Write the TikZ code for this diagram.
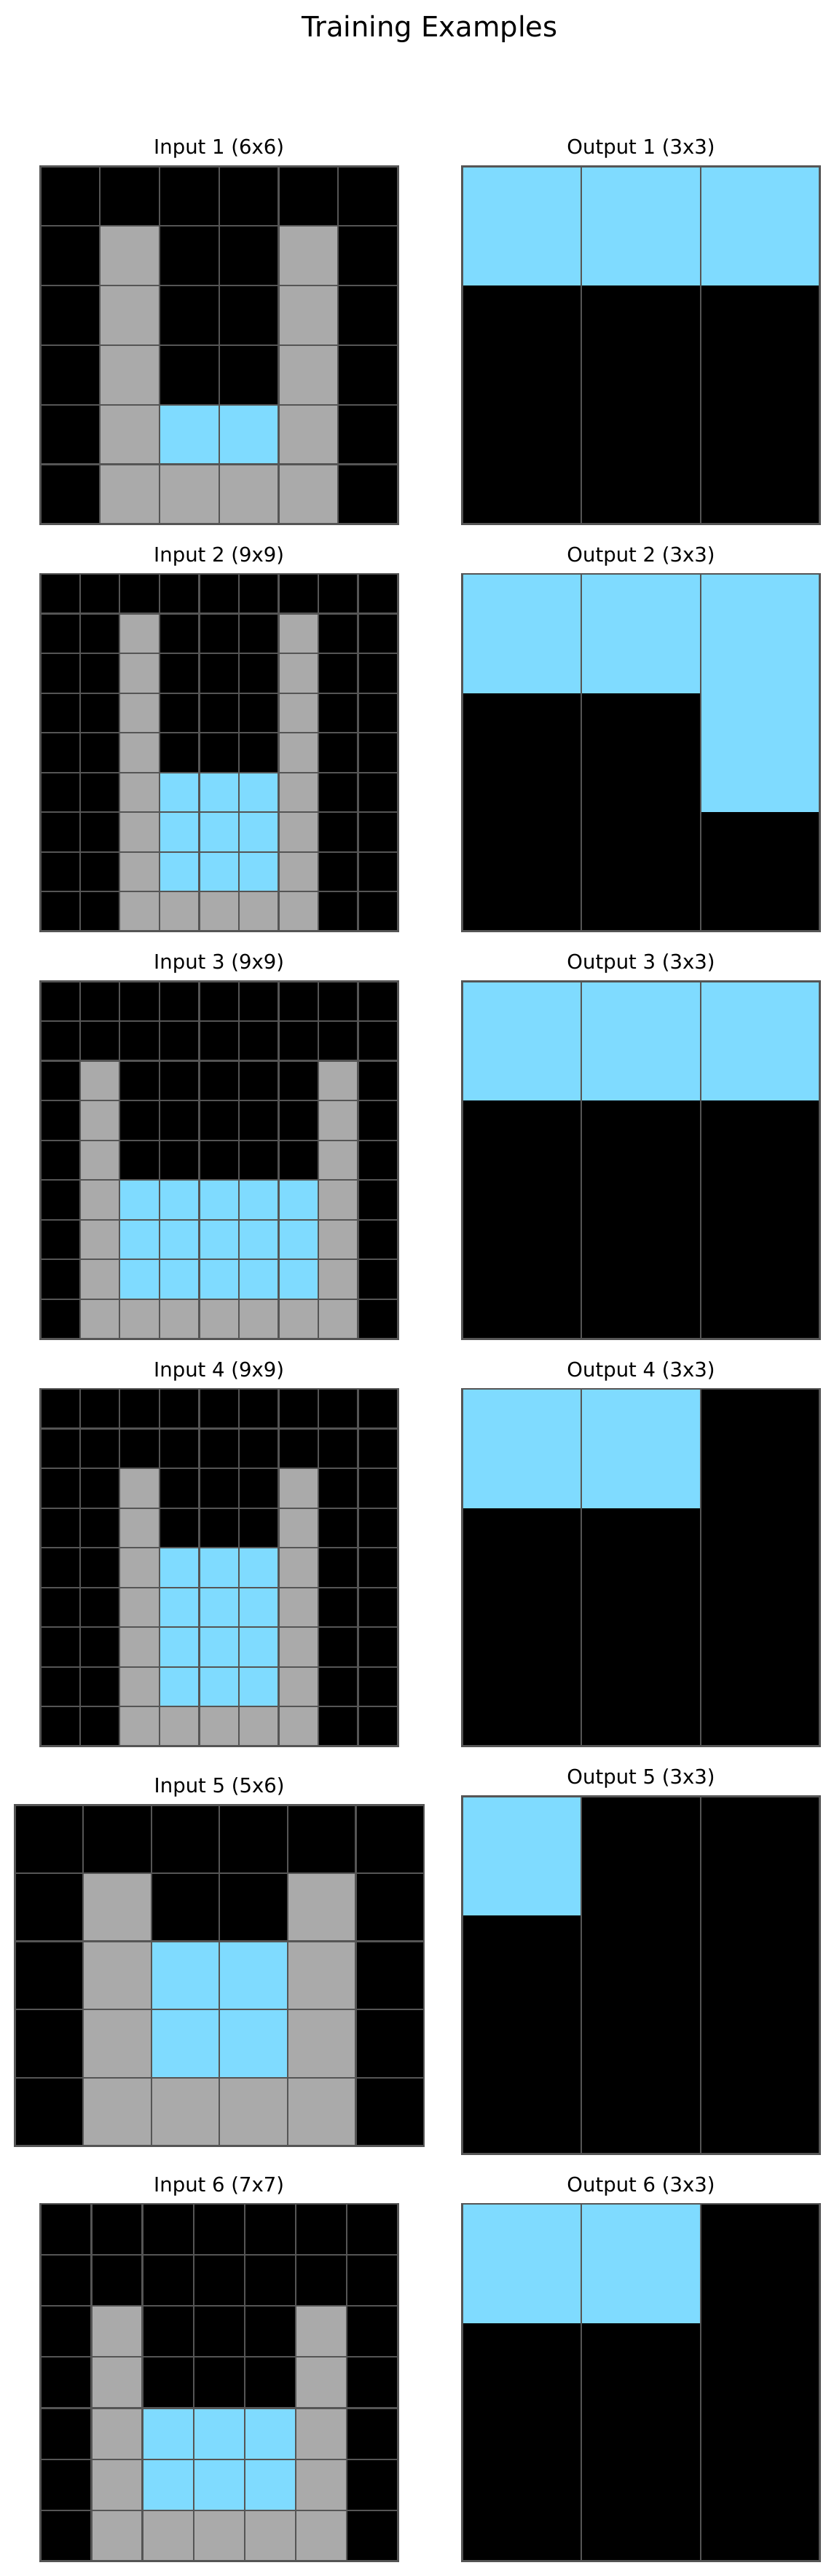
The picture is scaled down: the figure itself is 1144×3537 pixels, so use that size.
\documentclass[tikz,border=0pt]{standalone}
\usepackage{fontspec}
\setmainfont{DejaVu Sans}
\definecolor{c0}{HTML}{000000}
\definecolor{c5}{HTML}{AAAAAA}
\definecolor{c8}{HTML}{7FDBFF}
\definecolor{gridline}{HTML}{555555}

% cells of one grid: x0, y0, cell size, rows
\newcommand{\fillcells}[4]{%
  \foreach \cellrow [count=\r from 0] in {#4} {
    \foreach \v [count=\k from 0] in \cellrow {
      \fill[c\v] ({#1+\k*#3},{#2+\r*#3}) rectangle ++(#3,#3);
    }
  }
}
% input grid: x0, y0, cell size, cols, rows, data
\newcommand{\ingrid}[6]{%
  \fillcells{#1}{#2}{#3}{#6}
  \pgfmathtruncatemacro\lastcol{#4-1}
  \pgfmathtruncatemacro\lastrow{#5-1}
  \foreach \i in {1,...,\lastcol}
    \draw[inner line] ({#1+\i*#3},#2) -- ++(0,{#5*#3});
  \foreach \j in {1,...,\lastrow}
    \draw[inner line] (#1,{#2+\j*#3}) -- ++({#4*#3},0);
  \draw[outer line] (#1,#2) rectangle ++({#4*#3},{#5*#3});
}
% output grid (3x3): x0, y0, data
\newcommand{\outgrid}[3]{%
  \fillcells{#1}{#2}{163.6}{#3}
  \foreach \i in {1,2}
    \draw[inner line] ({#1+\i*163.6},#2) -- ++(0,490.8);
  \draw[outer line] (#1,#2) rectangle ++(490.8,490.8);
}

\begin{document}
\begin{tikzpicture}[x=1pt, y=-1pt,
    inner line/.style={gridline, line width=2.2pt},
    outer line/.style={gridline, line width=2.8pt},
    suptitle/.style={anchor=base, inner sep=0pt, font=\fontsize{38.5}{46}\selectfont},
    paneltitle/.style={anchor=base, inner sep=0pt, font=\fontsize{27.5}{33}\selectfont}]
  \useasboundingbox[fill=white] (0,0) rectangle (1144,3537);

  \node[suptitle] (title) at (590,50) {Training Examples};

  % pair 1
  \node[paneltitle] (in1) at (300.7,211.5) {Input 1 (6x6)};
  \node[paneltitle] (out1) at (880.1,211.5) {Output 1 (3x3)};
  \ingrid{55.3}{228.5}{81.8}{6}{6}{{0,0,0,0,0,0},{0,5,0,0,5,0},{0,5,0,0,5,0},{0,5,0,0,5,0},{0,5,8,8,5,0},{0,5,5,5,5,0}}
  \outgrid{634.7}{228.5}{{8,8,8},{0,0,0},{0,0,0}}

  % pair 2
  \node[paneltitle] (in2) at (300.7,771) {Input 2 (9x9)};
  \node[paneltitle] (out2) at (880.1,771) {Output 2 (3x3)};
  \ingrid{55.3}{788}{54.533}{9}{9}{{0,0,0,0,0,0,0,0,0},{0,0,5,0,0,0,5,0,0},{0,0,5,0,0,0,5,0,0},{0,0,5,0,0,0,5,0,0},{0,0,5,0,0,0,5,0,0},{0,0,5,8,8,8,5,0,0},{0,0,5,8,8,8,5,0,0},{0,0,5,8,8,8,5,0,0},{0,0,5,5,5,5,5,0,0}}
  \outgrid{634.7}{788}{{8,8,8},{0,0,8},{0,0,0}}

  % pair 3
  \node[paneltitle] (in3) at (300.7,1330.5) {Input 3 (9x9)};
  \node[paneltitle] (out3) at (880.1,1330.5) {Output 3 (3x3)};
  \ingrid{55.3}{1347.5}{54.533}{9}{9}{{0,0,0,0,0,0,0,0,0},{0,0,0,0,0,0,0,0,0},{0,5,0,0,0,0,0,5,0},{0,5,0,0,0,0,0,5,0},{0,5,0,0,0,0,0,5,0},{0,5,8,8,8,8,8,5,0},{0,5,8,8,8,8,8,5,0},{0,5,8,8,8,8,8,5,0},{0,5,5,5,5,5,5,5,0}}
  \outgrid{634.7}{1347.5}{{8,8,8},{0,0,0},{0,0,0}}

  % pair 4
  \node[paneltitle] (in4) at (300.7,1890) {Input 4 (9x9)};
  \node[paneltitle] (out4) at (880.1,1890) {Output 4 (3x3)};
  \ingrid{55.3}{1907}{54.533}{9}{9}{{0,0,0,0,0,0,0,0,0},{0,0,0,0,0,0,0,0,0},{0,0,5,0,0,0,5,0,0},{0,0,5,0,0,0,5,0,0},{0,0,5,8,8,8,5,0,0},{0,0,5,8,8,8,5,0,0},{0,0,5,8,8,8,5,0,0},{0,0,5,8,8,8,5,0,0},{0,0,5,5,5,5,5,0,0}}
  \outgrid{634.7}{1907}{{8,8,0},{0,0,0},{0,0,0}}

  % pair 5
  \node[paneltitle] (in5) at (301.2,2461.3) {Input 5 (5x6)};
  \node[paneltitle] (out5) at (880.1,2449.5) {Output 5 (3x3)};
  \ingrid{20.4}{2478.3}{93.6}{6}{5}{{0,0,0,0,0,0},{0,5,0,0,5,0},{0,5,8,8,5,0},{0,5,8,8,5,0},{0,5,5,5,5,0}}
  \outgrid{634.7}{2466.5}{{8,0,0},{0,0,0},{0,0,0}}

  % pair 6
  \node[paneltitle] (in6) at (300.7,3009) {Input 6 (7x7)};
  \node[paneltitle] (out6) at (880.1,3009) {Output 6 (3x3)};
  \ingrid{55.3}{3026}{70.114}{7}{7}{{0,0,0,0,0,0,0},{0,0,0,0,0,0,0},{0,5,0,0,0,5,0},{0,5,0,0,0,5,0},{0,5,8,8,8,5,0},{0,5,8,8,8,5,0},{0,5,5,5,5,5,0}}
  \outgrid{634.7}{3026}{{8,8,0},{0,0,0},{0,0,0}}
\end{tikzpicture}
\end{document}
